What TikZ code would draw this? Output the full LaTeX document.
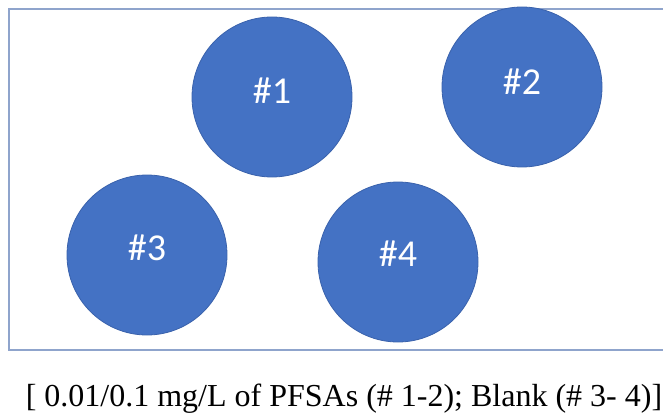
\documentclass[tikz,border=0pt]{standalone}
\usepackage{fontspec}
\setmainfont{Liberation Serif}
\newfontfamily\labelfont{Carlito}
\definecolor{diskfill}{HTML}{4472C4}
\definecolor{diskedge}{HTML}{3A62AC}
\definecolor{framecol}{HTML}{8FA4CC}
\begin{document}
\begin{tikzpicture}[x=1pt,y=-1pt,
  disk/.style={circle,fill=diskfill,draw=diskedge,line width=0.8pt,
    minimum size=160pt,inner sep=0pt},
  tag/.style={text=white,inner sep=0pt,
    font=\labelfont\fontsize{38}{40}\selectfont}]
  \useasboundingbox (0,0) rectangle (663,414);
  % frame, running off the right edge
  \begin{scope}
    \clip (0,0) rectangle (663,414);
    \draw[framecol,line width=2.2pt] (9,9) rectangle (680,350);
  \end{scope}
  % the four disks
  \node[disk] (n1) at (272,97) {};
  \node[disk] (n2) at (522,87) {};
  \node[disk] (n3) at (147,255) {};
  \node[disk] (n4) at (398,262) {};
  \node[tag] (t1) at ([yshift=6pt]n1.center) {\#1};
  \node[tag] (t2) at ([yshift=5pt]n2.center) {\#2};
  \node[tag] (t3) at ([yshift=7pt]n3.center) {\#3};
  \node[tag] (t4) at ([yshift=8pt]n4.center) {\#4};
  % caption
  \node[font=\fontsize{32}{36}\selectfont,anchor=base,inner sep=0pt] (cap) at (344,406)
    {[ 0.01/0.1 mg/L of PFSAs (\# 1-2); Blank (\# 3- 4)]};
\end{tikzpicture}
\end{document}
